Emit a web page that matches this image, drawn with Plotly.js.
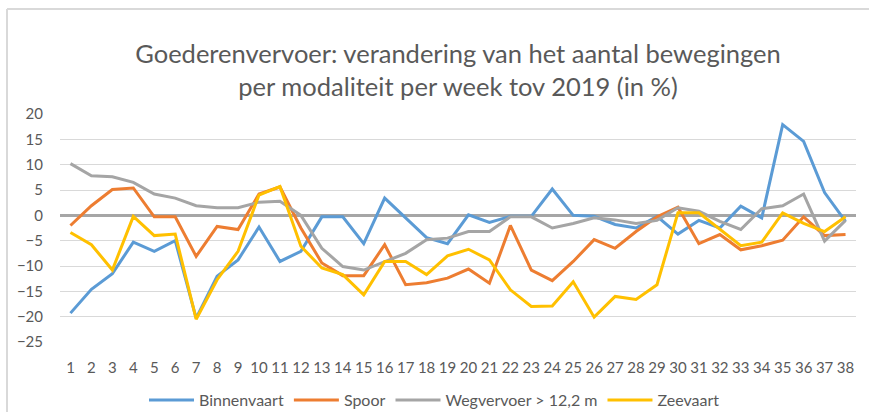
<!DOCTYPE html>
<html>
<head>
<meta charset="utf-8">
<script src="https://cdn.plot.ly/plotly-3.0.1.min.js"></script>
<style>
  html, body { margin: 0; padding: 0; background: #ffffff; }
  #chart { width: 869px; height: 412px; }
</style>
</head>
<body>
<div id="chart"></div>
<script>
const weeks = Array.from({length: 38}, (_, i) => i + 1);
const tickLabels = weeks.map(String);

const binnenvaart = [-19.3, -14.6, -11.5, -5.3, -7.1, -5.0, -20.3, -12.0, -8.8, -2.3,
  -9.1, -7.1, -0.3, -0.3, -5.6, 3.4, -0.5, -4.4, -5.6, 0.1,
  -1.4, -0.2, -0.2, 5.2, 0.0, -0.2, -1.8, -2.5, -0.2, -3.7,
  -1.0, -2.5, 1.8, -0.5, 17.9, 14.6, 4.5, -1.2];

const spoor = [-2.0, 1.9, 5.1, 5.4, -0.3, -0.3, -8.1, -2.2, -2.8, 4.2,
  5.6, -2.5, -9.4, -11.9, -11.9, -5.8, -13.7, -13.3, -12.4, -10.6,
  -13.4, -2.0, -10.8, -12.9, -9.1, -4.8, -6.5, -3.2, -0.3, 1.6,
  -5.6, -3.8, -6.8, -6.0, -4.9, -0.3, -4.0, -3.8];

const wegvervoer = [10.2, 7.8, 7.6, 6.5, 4.2, 3.4, 1.9, 1.5, 1.5, 2.6,
  2.8, 0.0, -6.5, -10.1, -10.8, -9.1, -7.5, -4.8, -4.5, -3.2,
  -3.2, -0.3, -0.3, -2.5, -1.6, -0.5, -0.9, -1.6, -1.0, 1.5,
  0.8, -1.2, -2.8, 1.3, 1.9, 4.2, -5.1, -1.0];

const zeevaart = [-3.4, -5.8, -10.8, -0.2, -4.0, -3.7, -20.5, -12.7, -7.1, 4.0,
  5.7, -6.1, -10.4, -11.7, -15.7, -9.1, -9.1, -11.7, -8.0, -6.7,
  -8.8, -14.7, -18.0, -17.9, -13.1, -20.1, -16.0, -16.6, -13.7, 0.5,
  0.5, -2.8, -6.0, -5.3, 0.5, -1.6, -3.2, -0.3];

const seriesNames = ['Binnenvaart', 'Spoor', 'Wegvervoer > 12,2 m', 'Zeevaart'];
const seriesValues = [binnenvaart, spoor, wegvervoer, zeevaart];
const seriesColors = ['#5b9bd5', '#ed7d31', '#a5a5a5', '#ffc000'];

const traces = seriesNames.map((name, i) => ({
  type: 'scatter',
  mode: 'lines',
  name: name,
  x: weeks,
  y: seriesValues[i],
  line: {color: seriesColors[i], width: 3},
  hoverinfo: 'x+y+name'
}));

const W = 869, H = 412;
const mL = 60, mR = 13, mT = 114, mB = 70;
const pw = W - mL - mR, ph = H - mT - mB;
const px = v => (v - mL) / pw;
const py = v => (H - mB - v) / ph;

const layout = {
  width: W,
  height: H,
  margin: {l: mL, r: mR, t: mT, b: mB, pad: 0, autoexpand: false},
  paper_bgcolor: '#ffffff',
  plot_bgcolor: '#ffffff',
  font: {family: 'Lato, "Open Sans", sans-serif', color: '#595959', size: 14},
  title: {
    text: 'Goederenvervoer: verandering van het aantal bewegingen<br>per modaliteit per week tov 2019 (in %)',
    font: {family: 'Lato, "Open Sans", sans-serif', size: 25.5, color: '#595959'},
    x: 0.5, xanchor: 'center', xref: 'paper',
    y: 1 - 63 / H, yanchor: 'middle', yref: 'container'
  },
  xaxis: {
    range: [0.5, 38.5],
    tickmode: 'array',
    tickvals: weeks,
    ticktext: tickLabels,
    tickangle: 0,
    automargin: false,
    showgrid: false,
    zeroline: false,
    showline: false,
    ticks: '',
    ticklabelstandoff: 15,
    tickfont: {size: 15, color: '#595959'},
    fixedrange: true
  },
  yaxis: {
    range: [-25, 20],
    tickmode: 'array',
    tickvals: [-25, -20, -15, -10, -5, 0, 5, 10, 15, 20],
    automargin: false,
    showgrid: true,
    gridcolor: '#d9d9d9',
    gridwidth: 1,
    zeroline: true,
    zerolinecolor: '#a6a6a6',
    zerolinewidth: 3,
    showline: false,
    ticks: '',
    ticklabelstandoff: 16,
    tickfont: {size: 15, color: '#595959'},
    fixedrange: true
  },
  legend: {
    orientation: 'h',
    x: 0.5, xanchor: 'center', xref: 'container',
    y: 1 - 400 / H, yanchor: 'middle', yref: 'container',
    font: {size: 16, color: '#595959'},
    itemwidth: 45,
    bgcolor: 'rgba(0,0,0,0)'
  },
  showlegend: true,
  shapes: [
    {type: 'line', xref: 'paper', yref: 'paper', x0: px(7), x1: px(870), y0: py(9), y1: py(9),
     line: {color: '#d9d9d9', width: 2}, layer: 'below'},
    {type: 'line', xref: 'paper', yref: 'paper', x0: px(7), x1: px(7), y0: py(9), y1: py(413),
     line: {color: '#d9d9d9', width: 2}, layer: 'below'}
  ]
};

Plotly.newPlot('chart', traces, layout, {displayModeBar: false, staticPlot: true});
</script>
</body>
</html>
